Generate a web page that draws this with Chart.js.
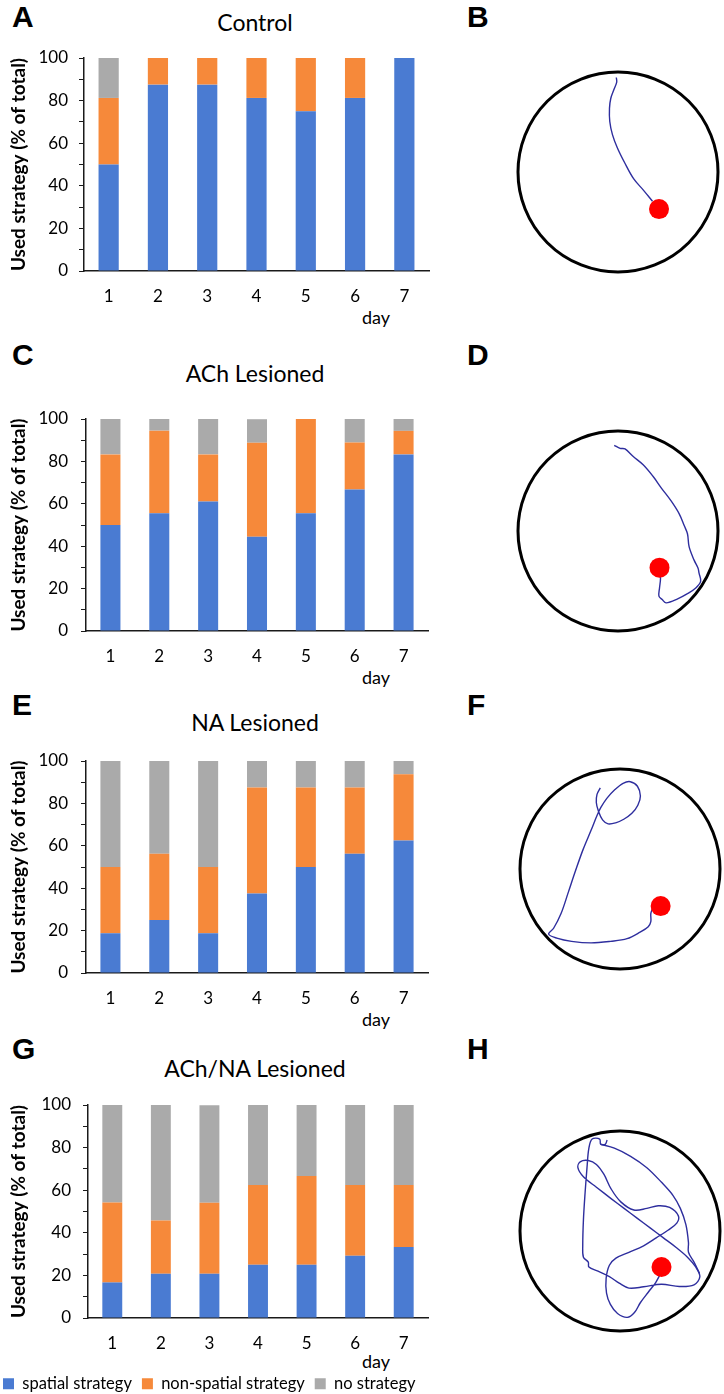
<!DOCTYPE html>
<html>
<head>
<meta charset="utf-8">
<title>Used strategy per day</title>
<script src="https://cdn.jsdelivr.net/npm/chart.js@4.4.1/dist/chart.umd.min.js"></script>
<style>
  body { margin: 0; background: #fff; overflow: hidden; }
  #page { position: relative; width: 724px; height: 1394px; overflow: hidden; font-family: Lato, sans-serif; color: #000; }
  #page canvas { position: absolute; }
  .letter { position: absolute; font-family: "Liberation Sans", Arial, sans-serif; font-weight: bold; font-size: 30px; line-height: 30px; }
  .title { position: absolute; left: 105px; width: 300px; text-align: center; font-size: 23px; line-height: 22px; }
  .day { position: absolute; left: 362px; font-size: 18px; line-height: 18px; }
</style>
</head>
<body>
<div id="page">
  <div class="letter" style="left:12px;top:2px">A</div>
  <div class="letter" style="left:467px;top:2px">B</div>
  <div class="letter" style="left:12px;top:340px">C</div>
  <div class="letter" style="left:467px;top:340px">D</div>
  <div class="letter" style="left:12px;top:690px">E</div>
  <div class="letter" style="left:467px;top:690px">F</div>
  <div class="letter" style="left:12px;top:1034px">G</div>
  <div class="letter" style="left:467px;top:1034px">H</div>

  <div class="title" style="top:11px">Control</div>
  <div class="title" style="top:362px">ACh Lesioned</div>
  <div class="title" style="top:711px">NA Lesioned</div>
  <div class="title" style="top:1057px">ACh/NA Lesioned</div>

  <div class="day" style="top:308px">day</div>
  <div class="day" style="top:668px">day</div>
  <div class="day" style="top:1010px">day</div>
  <div class="day" style="top:1352px">day</div>

  <canvas id="chartA"></canvas>
  <canvas id="chartC"></canvas>
  <canvas id="chartE"></canvas>
  <canvas id="chartG"></canvas>
  <canvas id="poolB"></canvas>
  <canvas id="poolD"></canvas>
  <canvas id="poolF"></canvas>
  <canvas id="poolH"></canvas>
</div>

<script>
// days and y tick labels
const days = ['1', '2', '3', '4', '5', '6', '7'];
const yTickLabels = [0, 20, 40, 60, 80, 100];
const seriesNames = ['spatial strategy', 'non-spatial strategy', 'no strategy'];

// % of animals per strategy, per day
const controlSpatial = [50, 87.5, 87.5, 81.25, 75, 81.25, 100];
const controlNonSpatial = [31.25, 12.5, 12.5, 18.75, 25, 18.75, 0];
const controlNone = [18.75, 0, 0, 0, 0, 0, 0];

const achSpatial = [50, 55.6, 61.1, 44.4, 55.6, 66.7, 83.3];
const achNonSpatial = [33.3, 38.9, 22.2, 44.4, 44.4, 22.2, 11.1];
const achNone = [16.7, 5.6, 16.7, 11.1, 0, 11.1, 5.6];

const naSpatial = [18.75, 25, 18.75, 37.5, 50, 56.25, 62.5];
const naNonSpatial = [31.25, 31.25, 31.25, 50, 37.5, 31.25, 31.25];
const naNone = [50, 43.75, 50, 12.5, 12.5, 12.5, 6.25];

const achNaSpatial = [16.7, 20.8, 20.8, 25, 25, 29.2, 33.3];
const achNaNonSpatial = [37.5, 25, 33.3, 37.5, 41.7, 33.3, 29.2];
const achNaNone = [45.8, 54.2, 45.8, 37.5, 33.3, 37.5, 37.5];

// swim paths (pool radius = 100, centre 0,0)
const trackB = [[-1.7, 95.4], [-1.3, 90.7], [-4.0, 83.4], [-7.3, 74.2], [-8.6, 64.2], [-8.3, 51.0],
  [-5.6, 37.7], [-0.7, 24.5], [6.6, 9.6], [15.9, -7.0], [25.8, -18.5], [34.8, -29.5]];
const platformB = [41.4, -37.4];

const trackD = [[-3.8, 86.4], [2.2, 83.4], [7.1, 82.8], [15.4, 75.1], [25.4, 66.8], [35.3, 55.2],
  [43.6, 43.6], [53.6, 30.3], [61.9, 17.1], [66.8, 5.5], [70.1, -2.8], [71.8, -16.1], [76.8, -29.4],
  [80.8, -37.6], [81.8, -42.6], [83.4, -50.9], [78.5, -57.5], [70.1, -63.2], [60.2, -68.5],
  [48.6, -72.5], [44.6, -69.2], [41.3, -65.8], [41.9, -57.5], [42.9, -47.6], [41.9, -44.3]];
const platformD = [41.9, -37.0];

const trackF = [[-19.9, 81.9], [-23.2, 75.3], [-23.9, 67.1], [-21.9, 58.8], [-17.6, 49.6], [-12.0, 45.6],
  [-4.4, 46.6], [3.8, 50.2], [12.0, 56.2], [18.0, 64.4], [20.6, 73.6], [17.6, 83.5], [10.4, 88.1],
  [3.1, 86.5], [-5.1, 80.2], [-13.3, 71.3], [-19.3, 62.1], [-23.2, 53.9], [-29.2, 39.0], [-37.4, 19.3],
  [-45.0, -2.1], [-52.2, -23.6], [-59.5, -45.0], [-67.0, -59.8], [-72.0, -65.7], [-63.8, -69.7],
  [-48.9, -73.0], [-29.2, -74.6], [-9.4, -73.0], [7.1, -70.3], [20.3, -63.7], [28.5, -58.2],
  [31.1, -53.2], [31.1, -45.0], [32.8, -40.0]];
const platformF = [41.0, -37.4];

const trackH1 = [[-13.0, 91.8], [-14.9, 87.5], [-19.5, 87.5], [-20.5, 92.8], [-28.1, 92.8], [-31.4, 83.6],
  [-33.3, 63.9], [-35.3, 37.6], [-36.9, 11.3], [-37.6, -14.9], [-36.9, -26.4], [-32.0, -31.4],
  [-31.4, -36.3], [-22.2, -40.6], [-10.7, -46.1], [-0.8, -52.7], [9.0, -57.6], [23.8, -56.3],
  [41.9, -53.7], [59.9, -56.0], [74.7, -54.3], [80.6, -46.1], [76.4, -36.3], [68.1, -26.4],
  [56.7, -16.6], [43.5, -6.7], [30.4, 3.1], [17.2, 13.0], [4.1, 22.8], [-9.0, 32.7], [-23.8, 44.2],
  [-36.9, 54.7], [-42.5, 63.9], [-40.2, 69.8], [-32.0, 71.1], [-23.8, 67.2], [-16.3, 57.3],
  [-9.0, 42.5], [0.8, 29.4], [14.0, 21.2], [27.1, 22.8], [38.6, 25.5], [50.1, 23.8], [58.9, 15.3],
  [57.3, 8.0], [48.4, 0.8], [36.9, -6.7], [23.8, -14.9], [9.0, -21.5], [-4.1, -27.4], [-10.7, -34.6],
  [-14.0, -47.8], [-13.6, -62.6], [-9.7, -74.1], [-2.5, -83.3], [7.4, -87.2], [14.6, -82.3],
  [20.5, -72.4], [28.7, -61.6], [36.0, -52.0], [40.2, -44.5]];
const trackH2 = [[-19.5, 87.5], [-5.7, 83.6], [10.7, 75.4], [27.1, 63.9], [41.9, 49.1], [53.4, 36.0],
  [60.9, 22.8], [66.5, 6.4], [69.1, -11.7], [69.1, -21.5], [74.7, -31.4], [80.3, -42.9]];
const platformH = [41.9, -36.3];

const blue = '#4a7bd2';
const orange = '#f6893a';
const grey = '#aaaaaa';
const axisColor = '#1a1a1a';
const pathColor = '#2e2e9e';

Chart.defaults.font.family = 'Lato, sans-serif';
Chart.defaults.color = '#000';
Chart.defaults.animation = false;

function place(canvas, left, top, width, height) {
  canvas.style.left = left + 'px';
  canvas.style.top = top + 'px';
  canvas.style.width = width + 'px';
  canvas.style.height = height + 'px';
  canvas.width = width;
  canvas.height = height;
}

// stacked bar chart; box gives the canvas and where the plot area should fall on the page
function initStrategyChart(id, spatial, nonSpatial, none, box) {
  const canvas = document.getElementById(id);
  place(canvas, box.left, box.top, box.width, box.height);
  const yWidth = box.areaLeft - box.left;
  const xHeight = box.xHeight;

  return new Chart(canvas.getContext('2d'), {
    type: 'bar',
    data: {
      labels: days,
      datasets: [
        { label: seriesNames[0], data: spatial, backgroundColor: blue },
        { label: seriesNames[1], data: nonSpatial, backgroundColor: orange },
        { label: seriesNames[2], data: none, backgroundColor: grey }
      ]
    },
    options: {
      responsive: false,
      layout: {
        padding: { top: box.areaTop - box.top, right: box.left + box.width - box.areaRight, bottom: 0, left: 0 }
      },
      datasets: {
        bar: { barPercentage: 0.41, categoryPercentage: 1, borderWidth: 0 }
      },
      scales: {
        x: {
          stacked: true,
          grid: { display: false, drawTicks: false },
          border: { display: true, color: axisColor, width: 1.5 },
          ticks: { padding: 15, font: { size: 17 } },
          afterFit: (scale) => { scale.height = xHeight; }
        },
        y: {
          stacked: true,
          min: 0,
          max: 100,
          grid: { drawOnChartArea: false, drawTicks: true, tickLength: 5, color: axisColor, lineWidth: 1 },
          border: { display: true, color: axisColor, width: 1.5 },
          ticks: {
            stepSize: 10,
            autoSkip: false,
            padding: box.tickPad,
            font: { size: 17 },
            callback: (value) => (yTickLabels.includes(value) ? value : '')
          },
          title: {
            display: true,
            text: 'Used strategy (% of total)',
            font: { size: 19, weight: 'bold' },
            padding: { top: box.titlePad, bottom: 0 }
          },
          afterFit: (scale) => { scale.width = yWidth; }
        }
      },
      plugins: {
        legend: box.legend ? {
          display: true,
          position: 'bottom',
          align: 'start',
          labels: { boxWidth: 11, boxHeight: 11, padding: 10, font: { size: 16.5 } }
        } : { display: false },
        tooltip: { enabled: false }
      }
    }
  });
}

const pts = (arr) => arr.map((p) => ({ x: p[0], y: p[1] }));

// water maze drawing: pool outline, swim paths, platform.
// the big pool point makes Chart.js reserve ~102px all round, so the canvas is sized for it
function initPoolChart(id, cx, cy, tracks, platform) {
  const canvas = document.getElementById(id);
  const pad = 102;
  const size = 220 + 2 * pad;
  place(canvas, cx - size / 2, cy - size / 2, size, size);

  const datasets = [
    { data: pts([platform]), pointRadius: 10, pointBackgroundColor: '#ff0000', pointBorderWidth: 0, order: 0 }
  ];
  tracks.forEach((t) => {
    datasets.push({ data: pts(t), showLine: true, pointRadius: 0, borderColor: pathColor, borderWidth: 1.4, tension: 0.35, order: 1 });
  });
  datasets.push({ data: [{ x: 0, y: 0 }], pointRadius: 100, pointBorderWidth: 3, pointBorderColor: '#000', pointBackgroundColor: 'rgba(0,0,0,0)', order: 2, clip: false });

  return new Chart(canvas.getContext('2d'), {
    type: 'scatter',
    data: { datasets: datasets },
    options: {
      responsive: false,
      layout: { padding: pad },
      scales: {
        x: { type: 'linear', min: -110, max: 110, display: false },
        y: { type: 'linear', min: -110, max: 110, display: false }
      },
      plugins: { legend: { display: false }, tooltip: { enabled: false } }
    }
  });
}

initStrategyChart('chartA', controlSpatial, controlNonSpatial, controlNone,
  { left: 0, top: 0, width: 450, height: 310, areaLeft: 84, areaRight: 429, areaTop: 58, xHeight: 39, titlePad: 7, tickPad: 11 });
initStrategyChart('chartC', achSpatial, achNonSpatial, achNone,
  { left: 0, top: 360, width: 450, height: 310, areaLeft: 86, areaRight: 428, areaTop: 419, xHeight: 39, titlePad: 7, tickPad: 13 });
initStrategyChart('chartE', naSpatial, naNonSpatial, naNone,
  { left: 0, top: 700, width: 450, height: 312, areaLeft: 86, areaRight: 428, areaTop: 761, xHeight: 39, titlePad: 7, tickPad: 13 });
initStrategyChart('chartG', achNaSpatial, achNaNonSpatial, achNaNone,
  { left: -7, top: 1040, width: 457, height: 362, areaLeft: 88, areaRight: 428, areaTop: 1105, xHeight: 47.5, titlePad: 14, tickPad: 12, legend: true });

initPoolChart('poolB', 617.5, 171.5, [trackB], platformB);
initPoolChart('poolD', 617.5, 530.5, [trackD], platformD);
initPoolChart('poolF', 619.5, 869, [trackF], platformF);
initPoolChart('poolH', 619.5, 1231, [trackH1, trackH2], platformH);
</script>
</body>
</html>
